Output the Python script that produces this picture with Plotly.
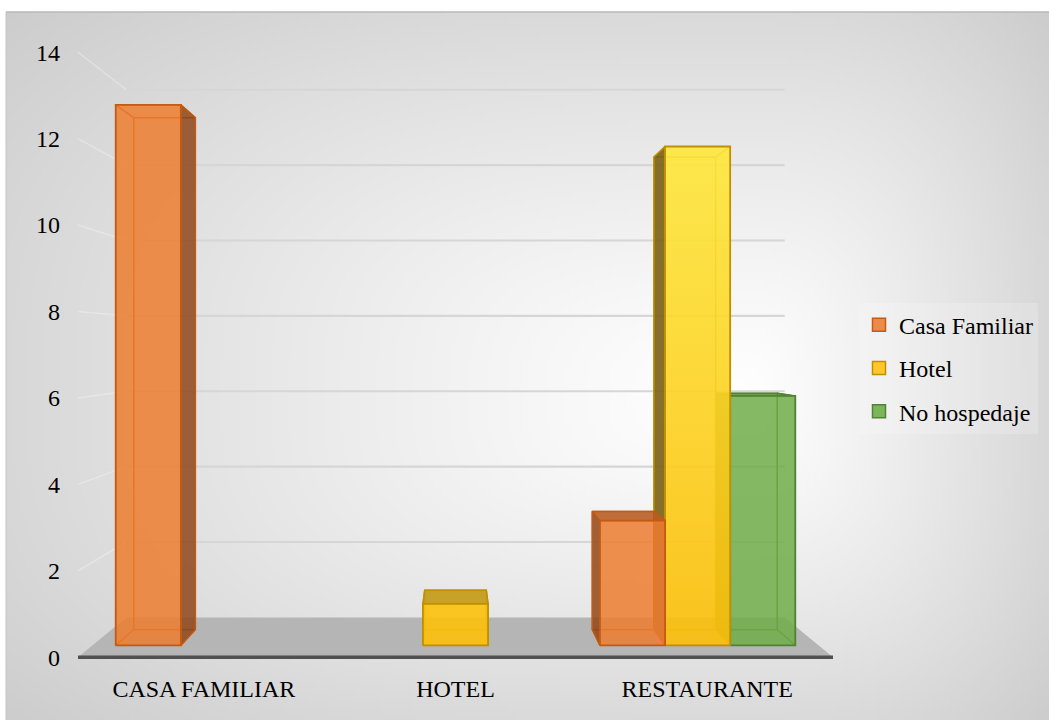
import base64
import struct
import zlib

import numpy as np
import plotly.graph_objects as go

# ---- data -------------------------------------------------------------
categories = ["CASA FAMILIAR", "HOTEL", "RESTAURANTE"]
series_names = ["Casa Familiar", "Hotel", "No hospedaje"]
casa_familiar = [13, 0, 3]
hotel = [0, 1, 12]
no_hospedaje = [0, 0, 6]
y_ticks = [0, 2, 4, 6, 8, 10, 12, 14]

# ---- page / projection settings --------------------------------------
W, H = 1049, 723
FONT = "Liberation Serif"
FONT_SIZE = 24
PX_X = 251.67          # pixels per category unit
PX_Y = 43.4            # pixels per value unit on the front plane
X0_PX, Y0_PX = 78, 660  # pixel of (x=0, value=0) on the front plane

CX = 1.5               # horizontal vanishing position (category units)
VY = 7.21              # vertical vanishing position (value units)
S_WALL = 0.872         # depth scale of the back wall
S_FRONT = 0.962        # depth scale of bar front faces
S_BACK = 0.911         # depth scale of bar back faces
BAR_W = 0.269          # bar width in category units


def proj(x, v, s):
    return CX + s * (x - CX), VY + s * (v - VY)


def poly(points):
    xs, ys = zip(*[proj(*p) for p in points])
    return list(xs) + [xs[0]], list(ys) + [ys[0]]


# ---- soft background as a stretched PNG --------------------------------
def png_uri(rgb):
    h, w, _ = rgb.shape
    raw = b"".join(b"\x00" + rgb[i].tobytes() for i in range(h))

    def chunk(tag, data):
        c = struct.pack(">I", len(data)) + tag + data
        return c + struct.pack(">I", zlib.crc32(tag + data) & 0xFFFFFFFF)

    png = (b"\x89PNG\r\n\x1a\n"
           + chunk(b"IHDR", struct.pack(">IIBBBBB", w, h, 8, 2, 0, 0, 0))
           + chunk(b"IDAT", zlib.compress(raw, 9))
           + chunk(b"IEND", b""))
    return "data:image/png;base64," + base64.b64encode(png).decode()


BG_L, BG_T = 6, 12
gw, gh = 261, 178
gx = np.linspace(BG_L, W, gw)[None, :]
gy = np.linspace(BG_T, H, gh)[:, None]
cx_px, cy_px = 740, 400
dxn = np.where(gx > cx_px, (gx - cx_px) / 380.0, (cx_px - gx) / 900.0)
dyn = np.where(gy < cy_px, (cy_px - gy) / 500.0, (gy - cy_px) / 420.0)
t = (dxn ** 3 + dyn ** 3) ** (1 / 3)
shade = np.clip(255 - 50 * t ** 1.2, 195, 255).astype(np.uint8)
bg_rgb = np.repeat(shade[:, :, None], 3, axis=2)

fig = go.Figure()


def add_poly(points, fill, line_color, line_width=1.5, gradient=None):
    xs, ys = poly(points)
    kw = dict(x=xs, y=ys, mode="lines", fill="toself",
              line=dict(color=line_color, width=line_width),
              hoverinfo="skip", showlegend=False)
    if gradient is not None:
        kw["fillgradient"] = gradient
    else:
        kw["fillcolor"] = fill
    fig.add_trace(go.Scatter(**kw))


def add_line(points, color, width):
    xs, ys = zip(*[proj(*p) for p in points])
    fig.add_trace(go.Scatter(x=list(xs), y=list(ys), mode="lines",
                             line=dict(color=color, width=width),
                             hoverinfo="skip", showlegend=False))


# ---- walls and floor ----------------------------------------------------
for v in y_ticks:
    if v == 0:
        continue
    # side-wall guide from the value axis to the back wall
    add_line([(0, v, 1.0), (0, v, S_WALL)], "rgba(255,255,255,0.3)", 1.5)
    # back-wall gridline
    add_line([(0, v, S_WALL), (3, v, S_WALL)], "#d6d6d6", 2.2)

add_poly([(0, 0, 1.0), (3, 0, 1.0), (3, 0, S_WALL), (0, 0, S_WALL)],
         "#b5b5b5", "rgba(0,0,0,0)", 0)
add_line([(0, 0, 1.0), (3, 0, 1.0)], "#505050", 3.5)

# ---- bars ---------------------------------------------------------------
styles = {
    "Casa Familiar": dict(front="rgba(237,125,49,0.8)", side="rgba(135,68,25,0.8)",
                          top="rgba(180,92,35,0.85)", hidden="rgba(237,125,49,0.26)",
                          edge="#C55A11", legend="#ED8A4A"),
    "Hotel": dict(front="rgba(255,200,20,0.85)", side="rgba(120,95,25,0.88)",
                  top="rgba(196,156,30,0.92)", hidden="rgba(235,180,0,0.3)",
                  edge="#BF9000", legend="#FFC72C"),
    "No hospedaje": dict(front="rgba(112,173,71,0.8)", side="rgba(70,112,40,0.85)",
                         top="rgba(92,145,58,0.85)", hidden="rgba(112,173,71,0.25)",
                         edge="#548235", legend="#7DB55A"),
}
yellow_gradient = dict(type="vertical", start=0, stop=13,
                       colorscale=[[0, "rgba(252,190,10,0.88)"],
                                   [1, "rgba(255,238,70,0.88)"]])

bars = []
for k, (name, vals) in enumerate(zip(series_names, [casa_familiar, hotel, no_hospedaje])):
    for c, v in enumerate(vals):
        if v <= 0:
            continue
        xc = c + 0.5 + (k - 1) * BAR_W
        bars.append((abs(xc - CX), xc, v, name))

# farthest from the centre first so nearer bars overlap them
for _, xc, v, name in sorted(bars, key=lambda b: -b[0]):
    st = styles[name]
    x0, x1 = xc - BAR_W / 2, xc + BAR_W / 2
    sf, sb = S_FRONT, S_BACK
    grad = yellow_gradient if name == "Hotel" else None

    faces_hidden = []
    faces_visible = []
    back = [(x0, 0, sb), (x1, 0, sb), (x1, v, sb), (x0, v, sb)]
    bottom = [(x0, 0, sf), (x1, 0, sf), (x1, 0, sb), (x0, 0, sb)]
    top = [(x0, v, sf), (x1, v, sf), (x1, v, sb), (x0, v, sb)]
    left = [(x0, 0, sf), (x0, 0, sb), (x0, v, sb), (x0, v, sf)]
    right = [(x1, 0, sf), (x1, 0, sb), (x1, v, sb), (x1, v, sf)]
    front = [(x0, 0, sf), (x1, 0, sf), (x1, v, sf), (x0, v, sf)]

    faces_hidden += [back, bottom]
    if v < VY:
        faces_visible.append((top, st["top"]))
    else:
        faces_hidden.append(top)
    if x0 > CX:
        faces_visible.append((left, st["side"]))
        faces_hidden.append(right)
    elif x1 < CX:
        faces_visible.append((right, st["side"]))
        faces_hidden.append(left)
    else:
        faces_hidden += [left, right]

    for f in faces_hidden:
        add_poly(f, st["hidden"], st["edge"], 1.2)
    for f, col in faces_visible:
        add_poly(f, col, st["edge"], 1.5)
    add_poly(front, st["front"], st["edge"], 1.8, gradient=grad)

# ---- legend entries -----------------------------------------------------
for name in series_names:
    st = styles[name]
    fig.add_trace(go.Scatter(
        x=[None], y=[None], mode="markers", name=name,
        marker=dict(symbol="square", size=13, color=st["legend"],
                    line=dict(color=st["edge"], width=1.5)),
        legendgroup=name))

# ---- layout -------------------------------------------------------------
PL, PR, PT, PB = 68, 850, 20, 670
x_range = [(PL - X0_PX) / PX_X, (PR - X0_PX) / PX_X]
y_range = [(Y0_PX - PB) / PX_Y, (Y0_PX - PT) / PX_Y]

fig.update_layout(
    width=W, height=H,
    margin=dict(l=0, r=0, t=0, b=0),
    paper_bgcolor="white",
    plot_bgcolor="rgba(0,0,0,0)",
    font=dict(family=FONT, size=FONT_SIZE, color="#000000"),
    xaxis=dict(domain=[PL / W, PR / W], range=x_range, showgrid=False,
               zeroline=False, showline=False, ticks="",
               tickvals=[0.5, 1.5, 2.5], ticktext=categories,
               tickfont=dict(family=FONT, size=FONT_SIZE), ticklabelstandoff=5,
               fixedrange=True),
    yaxis=dict(domain=[1 - PB / H, 1 - PT / H], range=y_range, showgrid=False,
               zeroline=False, showline=False, ticks="",
               tickvals=y_ticks, ticktext=[str(v) for v in y_ticks],
               tickfont=dict(family=FONT, size=FONT_SIZE), ticklabelstandoff=7,
               fixedrange=True),
    legend=dict(x=859 / W, y=1 - 304 / H, xanchor="left", yanchor="top",
                bgcolor="rgba(255,255,255,0.18)", borderwidth=0,
                font=dict(family=FONT, size=FONT_SIZE), tracegroupgap=9,
                itemwidth=30),
    images=[dict(source=png_uri(bg_rgb), xref="paper", yref="paper",
                 x=BG_L / W, y=1 - BG_T / H, sizex=(W - BG_L) / W,
                 sizey=(H - BG_T) / H, xanchor="left", yanchor="top",
                 sizing="stretch", layer="below")],
    shapes=[dict(type="line", xref="paper", yref="paper",
                 x0=BG_L / W, x1=1, y0=1 - BG_T / H, y1=1 - BG_T / H,
                 line=dict(color="#b8b8b8", width=1.5), layer="below"),
            dict(type="line", xref="paper", yref="paper",
                 x0=BG_L / W, x1=BG_L / W, y0=0, y1=1 - BG_T / H,
                 line=dict(color="#c4c4c4", width=1), layer="below")],
)

fig.write_html("out.html")
